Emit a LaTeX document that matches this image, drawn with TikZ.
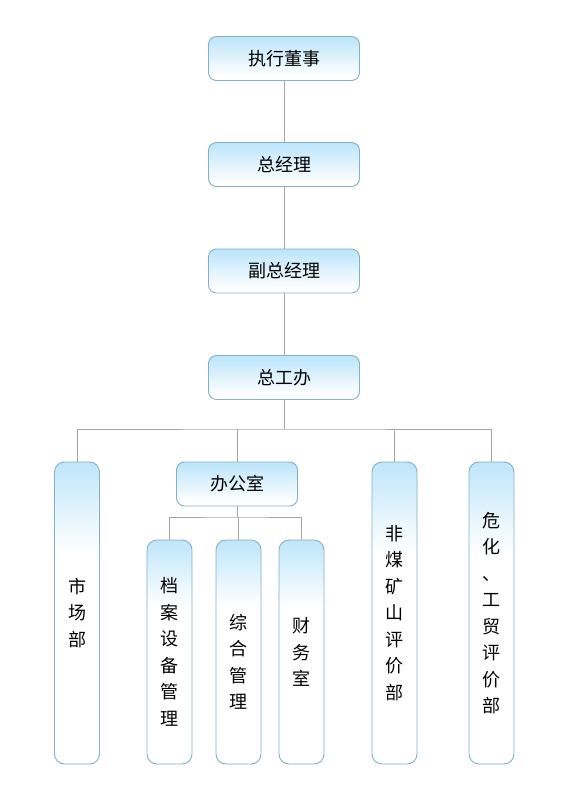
\documentclass[tikz,border=0pt]{standalone}
\usepackage{fontspec}
\newfontfamily\cjk{Noto Sans CJK SC}
\usetikzlibrary{calc}
\definecolor{boxblue}{HTML}{BFE6FB}
\definecolor{boxedge}{HTML}{86AFC2}
\definecolor{linegray}{HTML}{A6A6A6}
\pgfdeclareverticalshading{hgrad}{100bp}{color(0bp)=(white); color(30bp)=(white); color(72bp)=(boxblue); color(100bp)=(boxblue)}
\pgfdeclareverticalshading{vgrad}{100bp}{color(0bp)=(white); color(60bp)=(white); color(75bp)=(boxblue); color(100bp)=(boxblue)}
\begin{document}
\begin{tikzpicture}[x=1pt,y=-1pt,
  hbox/.style={draw=boxedge, line width=0.9pt, rounded corners=8pt, shading=hgrad,
    minimum width=151pt, minimum height=44pt, inner sep=0pt,
    font=\cjk\fontsize{18}{20}\selectfont},
  vbox/.style={draw=boxedge, line width=0.9pt, rounded corners=10pt, shading=vgrad,
    minimum width=45pt, inner sep=0pt, align=center,
    font=\cjk\fontsize{18}{26.5}\selectfont},
  vtext/.style={align=center, inner sep=0pt, font=\cjk\fontsize{18}{26.5}\selectfont},
  conn/.style={draw=linegray, line width=1pt}]
\useasboundingbox[fill=white] (0,0) rectangle (569,800);
% top chain
\node[hbox] (ceo) at (284,58.5) {执行董事};
\node[hbox] (gm)  at (284,164.5) {总经理};
\node[hbox] (vgm) at (284,271) {副总经理};
\node[hbox] (zgb) at (284,377.5) {总工办};
% second level
\node[vbox, minimum height=302pt] (scb) at (77,613) {市\\场\\部};
\node[hbox, minimum width=121pt] (bgs) at (237,484) {办公室};
\node[vbox, minimum height=302pt] (fmks) at (394.5,613) {非\\煤\\矿\\山\\评\\价\\部};
\node[vbox, minimum height=302pt] (wh) at (491.5,613) {危\\化\\、\\工\\贸\\评\\价\\部};
% third level
\node[vbox, minimum height=224pt] (dasb) at (169.5,652) {档\\案\\设\\备\\管\\理};
\node[vbox, minimum height=224pt] (zhgl) at (238.5,652) {};
\node[vtext] (zhglt) at ($(zhgl.center)+(0,10)$) {综\\合\\管\\理};
\node[vbox, minimum height=224pt] (cws) at (301.5,652) {财\\务\\室};
% connectors
\coordinate (bus) at (284,429);
\coordinate (sbus) at (237,517);
\draw[conn] (ceo.south) -- (gm.north);
\draw[conn] (gm.south) -- (vgm.north);
\draw[conn] (vgm.south) -- (zgb.north);
\draw[conn] (zgb.south) -- (bus);
\draw[conn] (scb.north) |- (bus) -| (wh.north);
\draw[conn] (bgs.north) -- (bgs.north |- bus);
\draw[conn] (fmks.north) -- (fmks.north |- bus);
\draw[conn] (bgs.south) -- (sbus);
\draw[conn] (dasb.north) |- (sbus) -| (cws.north);
\draw[conn] (zhgl.north) -- (zhgl.north |- sbus);
\end{tikzpicture}
\end{document}
